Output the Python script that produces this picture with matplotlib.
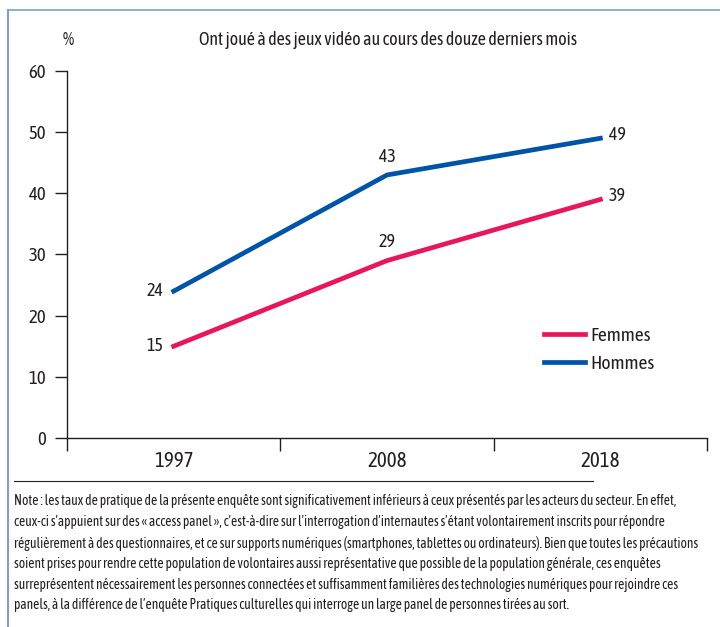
import matplotlib.pyplot as plt
from matplotlib.lines import Line2D

plt.rcParams['font.family'] = ['Asap Condensed', 'Liberation Sans Narrow', 'Liberation Sans', 'DejaVu Sans']

# Donnees
annees = ['1997', '2008', '2018']
femmes = [15, 29, 39]
hommes = [24, 43, 49]
y_ticks = [0, 10, 20, 30, 40, 50, 60]

titre = 'Ont joué à des jeux vidéo au cours des douze derniers mois'
note = ("Note : les taux de pratique de la présente enquête sont significativement inférieurs à ceux présentés par les acteurs du secteur. En effet,\n"
        "ceux-ci s\u2019appuient sur des « access panel », c\u2019est-à-dire sur l\u2019interrogation d\u2019internautes s\u2019étant volontairement inscrits pour répondre\n"
        "régulièrement à des questionnaires, et ce sur supports numériques (smartphones, tablettes ou ordinateurs). Bien que toutes les précautions\n"
        "soient prises pour rendre cette population de volontaires aussi représentative que possible de la population générale, ces enquêtes\n"
        "surreprésentent nécessairement les personnes connectées et suffisamment familières des technologies numériques pour rejoindre ces\n"
        "panels, à la différence de l\u2019enquête Pratiques culturelles qui interroge un large panel de personnes tirées au sort.")

rose = '#E8175D'
bleu = '#0054A6'
gris = '#231F20'

fig = plt.figure(figsize=(7.2, 6.27), dpi=100)
ax = fig.add_axes([0.093, 0.3014, 0.889, 0.5854])

x = range(len(annees))
ax.plot(x, femmes, color=rose, lw=3.4, solid_joinstyle='round', label='Femmes')
ax.plot(x, hommes, color=bleu, lw=3.4, solid_joinstyle='round', label='Hommes')

# etiquettes de valeurs
for serie in (femmes, hommes):
    ax.text(0 - 0.05, serie[0], str(serie[0]), ha='right', va='center', fontsize=13, color=gris)
    ax.text(1, serie[1] + 1.5, str(serie[1]), ha='center', va='bottom', fontsize=13, color=gris)
    ax.text(2 + 0.04, serie[2] + 0.6, str(serie[2]), ha='left', va='center', fontsize=13, color=gris)

ax.set_xlim(-0.5, 2.5)
ax.set_ylim(0, 60)
ax.set_yticks(y_ticks)
ax.set_yticklabels([str(v) for v in y_ticks], fontsize=13.5, color=gris)
ax.set_xticks([-0.5, 0.5, 1.5, 2.5])
ax.set_xticklabels([])
ax.set_xticks(list(x), minor=True)
ax.set_xticklabels(annees, minor=True, fontsize=15, color=gris)
ax.tick_params(axis='x', which='minor', length=0, pad=9)
ax.tick_params(axis='x', which='major', length=9, width=1, color=gris, direction='out')
ax.tick_params(axis='y', length=9, width=1, color=gris, pad=6)

for s in ['top', 'right']:
    ax.spines[s].set_visible(False)
for s in ['left', 'bottom']:
    ax.spines[s].set_color(gris)
    ax.spines[s].set_linewidth(1)

leg = ax.legend(loc='upper left', bbox_to_anchor=(0.745, 0.302), frameon=False,
                fontsize=14, handlelength=2.1, handletextpad=0.3,
                labelspacing=0.5, borderpad=0, borderaxespad=0)
for t in leg.get_texts():
    t.set_color(gris)

fig.text(63 / 720, 1 - 40 / 627, '%', ha='left', va='center', fontsize=13, color=gris)
t_titre = fig.text(388 / 720, 1 - 40 / 627, titre, ha='center', va='center', fontsize=13.5, color=gris)

# filet et note
fig.add_artist(Line2D([14 / 720, 593 / 720], [1 - 481 / 627] * 2, color=gris, lw=0.8))
t_note = fig.text(14 / 720, 1 - 494 / 627, note, ha='left', va='top', fontsize=10,
                  color=gris, linespacing=1.55)

# ajuster les largeurs des textes a celles du modele
rend = fig.canvas.get_renderer()
for t, cible in ((t_note, 686), (t_titre, 380)):
    w = t.get_window_extent(rend).width
    t.set_fontsize(t.get_fontsize() * cible / w)
if t_note.get_fontsize() < 10:
    t_note.set_linespacing(1.55 * 10 / t_note.get_fontsize())

# cadre
cadre = '#7F9FC8'
fig.add_artist(Line2D([8 / 720, 8 / 720], [0, 1 - 10 / 627], color=cadre, lw=1.5))
fig.add_artist(Line2D([8 / 720, 1], [1 - 10 / 627] * 2, color=cadre, lw=1.2))

fig.savefig('out.png', dpi=100)
